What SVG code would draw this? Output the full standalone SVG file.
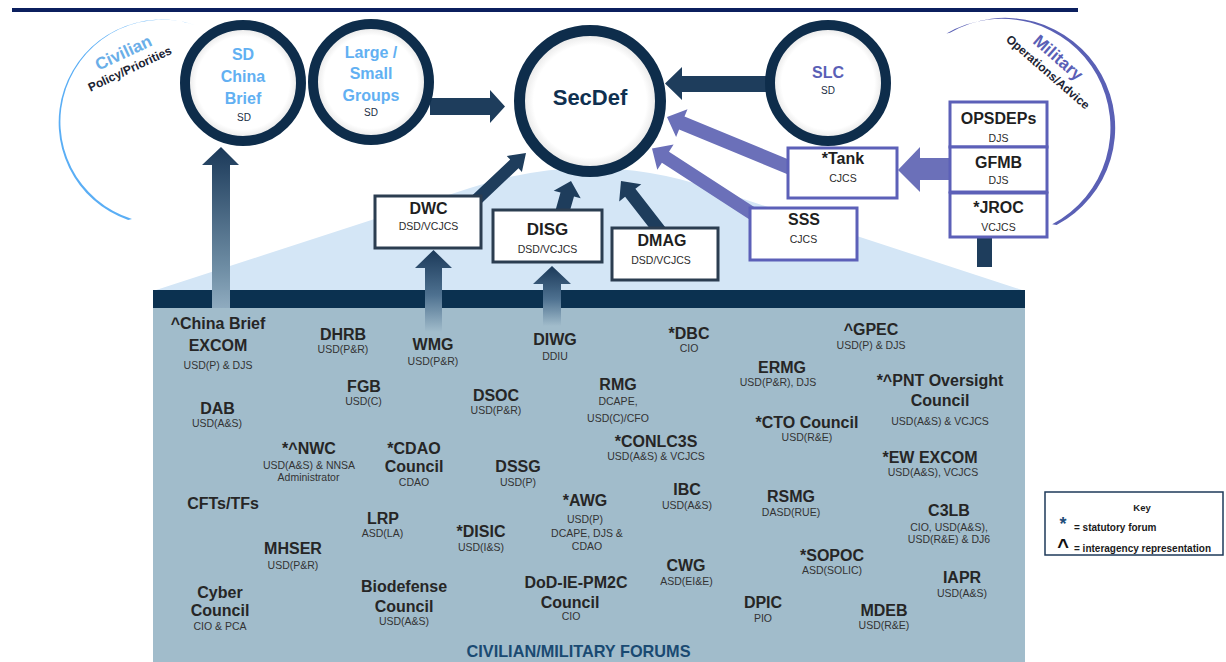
<svg xmlns="http://www.w3.org/2000/svg" width="1226" height="662" viewBox="0 0 1226 662">
<defs>
<style>
text{font-family:"Liberation Sans",Arial,Helvetica,sans-serif;text-anchor:middle}
.ft{font-weight:bold;font-size:16px;fill:#262626}
.fs{font-size:10.5px;fill:#333333}
.bt{font-weight:bold;font-size:16px;fill:#1f1f1f}
.bs{font-size:10.5px;fill:#2b2b2b}
.ct{font-weight:bold;font-size:16px;fill:#62b0f2}
.cs{font-size:10px;fill:#1a2e44}
.ring{stroke:#0e2d4b;stroke-width:10;fill:url(#disc)}
.nbox{fill:#ffffff;stroke:#2b3d50;stroke-width:3}
.pbox{fill:#ffffff;stroke:#5c60b8;stroke-width:3}
.navy{fill:#1e3d5c}
.purple{fill:#6b70b9}
.kt{font-weight:bold;font-size:10px;fill:#1a1a1a;text-anchor:start}
</style>
<radialGradient id="disc" cx="0.5" cy="0.5" r="0.5">
<stop offset="0" stop-color="#ffffff"/>
<stop offset="0.8" stop-color="#ffffff"/>
<stop offset="0.92" stop-color="#ececec"/>
<stop offset="1" stop-color="#cfcfcf"/>
</radialGradient>
<linearGradient id="upLong" x1="0" y1="0" x2="0" y2="1">
<stop offset="0" stop-color="#1b3959"/>
<stop offset="0.75" stop-color="#6e8da4"/>
<stop offset="1" stop-color="#8fabbf"/>
</linearGradient>
<linearGradient id="upShort" x1="0" y1="0" x2="0" y2="1">
<stop offset="0" stop-color="#1b3959"/>
<stop offset="0.55" stop-color="#4e7190"/>
<stop offset="1" stop-color="#a1bccb"/>
</linearGradient>
</defs>
<rect x="0" y="0" width="1226" height="662" fill="#ffffff"/>
<g id="background">
<rect x="12" y="8" width="1066" height="4" fill="#0b1f5e"/>
<path d="M153,291 L470,188 Q590,148 710,188 L1025,291 Z" fill="#d4e6f6"/>
<rect x="153" y="290" width="872" height="372" fill="#a1bccb"/>
<rect x="153" y="290" width="872" height="18" fill="#0b3150"/>
</g>
<g id="spheres">
<path d="M195.2,25.2 A103,103 0 1 0 128.2,220.0 L132,219 A102,102 0 1 1 198.4,26.2 Z" fill="#5aaef5"/>
<text transform="translate(125.8,57.9) rotate(-25)" style="font-weight:bold;font-size:17px;fill:#6aaee8">Civilian</text>
<text transform="translate(131.5,72.5) rotate(-25)" style="font-weight:bold;font-size:12px;fill:#1c2433">Policy/Priorities</text>
<path d="M950,32.7 A110,110 0 1 1 1056.6,225.1 L1052.2,224.2 A109,109 0 1 0 946.5,33.6 Z" fill="#5a60b5"/>
<text transform="translate(1054.4,62) rotate(41)" style="font-weight:bold;font-size:17px;fill:#5a5fb6">Military</text>
<text transform="translate(1045.2,75.2) rotate(41)" style="font-weight:bold;font-size:12px;fill:#1c2433">Operations/Advice</text>
</g>
<g id="connectors">
<polygon points="212,308 212,165 202,165 221,147 239,165 230,165 230,308" fill="url(#upLong)"/>
<polygon points="425,332 425,268 415,268 433.5,250 452,268 442,268 442,332" fill="url(#upShort)"/>
<polygon points="543,326 543,284 533,284 552,266 571,284 561,284 561,326" fill="url(#upShort)"/>
<polygon class="navy" points="430,98 490,98 490,90 505,106.5 490,123 490,115 430,115"/>
<polygon class="navy" points="772,76 682,76 682,67 665,83.5 682,100 682,92 772,92"/>
<polygon class="navy" points="477.1,207.4 518.5,168.3 521.9,172.0 526,153 506.8,156.0 510.2,159.6 468.9,198.6"/>
<polygon class="navy" points="568.7,214.9 574.0,196.4 580.7,198.3 571,181 553.7,190.7 560.5,192.6 555.3,211.1"/>
<polygon class="navy" points="665.1,227.0 635.4,188.8 641.3,184.2 621,181 619.2,201.4 625.1,196.8 654.9,235.0"/>
<polygon class="purple" points="794.7,162.0 684.5,116.6 687.5,109.2 667,117 676.1,137.0 679.1,129.6 789.3,175.0"/>
<polygon class="purple" points="756.5,208.6 669.0,151.8 673.6,144.6 652,148.5 657.3,169.8 661.9,162.7 749.5,219.5"/>
<polygon class="purple" points="952,158 920,158 920,147 898,170 920,192 920,180 952,180"/>
<rect x="977" y="236" width="15" height="31" fill="#1e3d5c"/>
</g>
<g id="sd-china-brief">
<circle class="ring" cx="243" cy="83" r="58"/>
<text class="ct" x="243" y="60">SD</text>
<text class="ct" x="243" y="82">China</text>
<text class="ct" x="243" y="103.5">Brief</text>
<text class="cs" x="244" y="121">SD</text>
</g>
<g id="large-small-groups">
<circle class="ring" cx="371" cy="82" r="58"/>
<text class="ct" x="371" y="58">Large /</text>
<text class="ct" x="371" y="79">Small</text>
<text class="ct" x="371" y="101">Groups</text>
<text class="cs" x="371" y="116">SD</text>
</g>
<g id="secdef">
<circle class="ring" cx="590" cy="101" r="70.5" style="stroke-width:11"/>
<text x="590" y="105" style="font-weight:bold;font-size:22px;fill:#0f3050">SecDef</text>
</g>
<g id="slc">
<circle class="ring" cx="828" cy="83" r="58"/>
<text x="828" y="78" style="font-weight:bold;font-size:16px;fill:#5a5fb6">SLC</text>
<text class="cs" x="828" y="94">SD</text>
</g>
<g id="dwc">
<rect class="nbox" x="375" y="196" width="106" height="52"/>
<text class="bt" x="428.5" y="213.5">DWC</text>
<text class="bs" x="428.5" y="229.5">DSD/VCJCS</text>
</g>
<g id="disg">
<rect class="nbox" x="493" y="210" width="109" height="52"/>
<text class="bt" x="547.5" y="234.5" style="font-size:17px">DISG</text>
<text class="bs" x="547.5" y="253">DSD/VCJCS</text>
</g>
<g id="dmag">
<rect class="nbox" x="612" y="228" width="106" height="52"/>
<text class="bt" x="662" y="246">DMAG</text>
<text class="bs" x="661" y="263.5">DSD/VCJCS</text>
</g>
<g id="tank">
<rect class="pbox" x="788" y="148" width="109" height="50"/>
<text class="bt" x="843" y="163.5">*Tank</text>
<text class="bs" x="843" y="181.5">CJCS</text>
</g>
<g id="sss">
<rect class="pbox" x="750" y="208" width="107" height="52"/>
<text class="bt" x="804" y="225">SSS</text>
<text class="bs" x="803.5" y="243">CJCS</text>
</g>
<g id="opsdeps">
<rect class="pbox" x="950" y="102" width="97" height="45"/>
<text class="bt" x="998.5" y="124">OPSDEPs</text>
<text class="bs" x="998.5" y="142">DJS</text>
</g>
<g id="gfmb">
<rect class="pbox" x="950" y="147" width="97" height="45"/>
<text class="bt" x="998.5" y="168">GFMB</text>
<text class="bs" x="998.5" y="184">DJS</text>
</g>
<g id="jroc">
<rect class="pbox" x="950" y="193" width="97" height="44"/>
<text class="bt" x="998.5" y="213">*JROC</text>
<text class="bs" x="998.5" y="231">VCJCS</text>
</g>
<g id="china-brief-excom"><text class="ft" x="218" y="329">^China Brief</text><text class="ft" x="218" y="351">EXCOM</text><text class="fs" x="218" y="369">USD(P) &amp; DJS</text></g>
<g id="dhrb"><text class="ft" x="343" y="340">DHRB</text><text class="fs" x="343" y="353">USD(P&amp;R)</text></g>
<g id="wmg"><text class="ft" x="433" y="350">WMG</text><text class="fs" x="433" y="364.5">USD(P&amp;R)</text></g>
<g id="diwg"><text class="ft" x="555" y="345">DIWG</text><text class="fs" x="555" y="359.5">DDIU</text></g>
<g id="dbc"><text class="ft" x="689" y="338.5">*DBC</text><text class="fs" x="689" y="352">CIO</text></g>
<g id="gpec"><text class="ft" x="871" y="335">^GPEC</text><text class="fs" x="871" y="349">USD(P) &amp; DJS</text></g>
<g id="ermg"><text class="ft" x="782" y="372.5">ERMG</text><text class="fs" x="778" y="385.5">USD(P&amp;R), DJS</text></g>
<g id="fgb"><text class="ft" x="364" y="392">FGB</text><text class="fs" x="363.5" y="404.5">USD(C)</text></g>
<g id="dsoc"><text class="ft" x="496" y="401">DSOC</text><text class="fs" x="496" y="414">USD(P&amp;R)</text></g>
<g id="rmg"><text class="ft" x="618" y="390">RMG</text><text class="fs" x="618" y="405">DCAPE,</text><text class="fs" x="618" y="421.5">USD(C)/CFO</text></g>
<g id="pnt"><text class="ft" x="940" y="386">*^PNT Oversight</text><text class="ft" x="940" y="406">Council</text><text class="fs" x="940" y="424.5">USD(A&amp;S) &amp; VCJCS</text></g>
<g id="dab"><text class="ft" x="217.5" y="413.5">DAB</text><text class="fs" x="217" y="427">USD(A&amp;S)</text></g>
<g id="cto"><text class="ft" x="807" y="427.5">*CTO Council</text><text class="fs" x="807" y="440.5">USD(R&amp;E)</text></g>
<g id="conlc3s"><text class="ft" x="656" y="446.5">*CONLC3S</text><text class="fs" x="656" y="459.5">USD(A&amp;S) &amp; VCJCS</text></g>
<g id="nwc"><text class="ft" x="309" y="454">*^NWC</text><text class="fs" x="309" y="469">USD(A&amp;S) &amp; NNSA</text><text class="fs" x="308.5" y="481">Administrator</text></g>
<g id="cdao"><text class="ft" x="414" y="454">*CDAO</text><text class="ft" x="414" y="472">Council</text><text class="fs" x="414" y="485.5">CDAO</text></g>
<g id="dssg"><text class="ft" x="518" y="472">DSSG</text><text class="fs" x="518" y="485.5">USD(P)</text></g>
<g id="ew-excom"><text class="ft" x="930" y="462.5">*EW EXCOM</text><text class="fs" x="933" y="476">USD(A&amp;S), VCJCS</text></g>
<g id="cfts-tfs"><text class="ft" x="223" y="508.5">CFTs/TFs</text></g>
<g id="ibc"><text class="ft" x="687" y="495">IBC</text><text class="fs" x="687" y="509">USD(A&amp;S)</text></g>
<g id="rsmg"><text class="ft" x="791" y="502">RSMG</text><text class="fs" x="791" y="515.5">DASD(RUE)</text></g>
<g id="c3lb"><text class="ft" x="949" y="516">C3LB</text><text class="fs" x="949" y="530.5">CIO, USD(A&amp;S),</text><text class="fs" x="949" y="543">USD(R&amp;E) &amp; DJ6</text></g>
<g id="awg"><text class="ft" x="585" y="506">*AWG</text><text class="fs" x="585" y="523">USD(P)</text><text class="fs" x="587" y="537">DCAPE, DJS &amp;</text><text class="fs" x="587" y="550">CDAO</text></g>
<g id="lrp"><text class="ft" x="383" y="524">LRP</text><text class="fs" x="382.5" y="537">ASD(LA)</text></g>
<g id="disic"><text class="ft" x="481" y="537">*DISIC</text><text class="fs" x="481" y="551">USD(I&amp;S)</text></g>
<g id="mhser"><text class="ft" x="293" y="554">MHSER</text><text class="fs" x="293" y="569">USD(P&amp;R)</text></g>
<g id="sopoc"><text class="ft" x="832" y="561">*SOPOC</text><text class="fs" x="832" y="574">ASD(SOLIC)</text></g>
<g id="cwg"><text class="ft" x="686" y="571">CWG</text><text class="fs" x="686.5" y="584.5">ASD(EI&amp;E)</text></g>
<g id="iapr"><text class="ft" x="962" y="583">IAPR</text><text class="fs" x="962" y="596.5">USD(A&amp;S)</text></g>
<g id="cyber-council"><text class="ft" x="220" y="597.5">Cyber</text><text class="ft" x="220" y="616">Council</text><text class="fs" x="220" y="630">CIO &amp; PCA</text></g>
<g id="biodefense-council"><text class="ft" x="404" y="591.5">Biodefense</text><text class="ft" x="404" y="611.5">Council</text><text class="fs" x="404" y="624.5">USD(A&amp;S)</text></g>
<g id="dod-ie-pm2c"><text class="ft" x="576" y="588">DoD-IE-PM2C</text><text class="ft" x="570" y="608">Council</text><text class="fs" x="571" y="620">CIO</text></g>
<g id="dpic"><text class="ft" x="763" y="607.5">DPIC</text><text class="fs" x="763" y="621.5">PIO</text></g>
<g id="mdeb"><text class="ft" x="884" y="616">MDEB</text><text class="fs" x="884" y="629">USD(R&amp;E)</text></g>
<g id="forums-label"><text x="578.5" y="657" textLength="224" lengthAdjust="spacingAndGlyphs" style="font-weight:bold;font-size:17px;fill:#1a4a72">CIVILIAN/MILITARY FORUMS</text></g>
<g id="key">
<rect x="1045" y="492" width="178" height="63" fill="#ffffff" stroke="#1e3a5a" stroke-width="1.5"/>
<text x="1142" y="511" style="font-weight:bold;font-size:9.5px;fill:#1a1a1a">Key</text>
<text x="1063" y="530" style="font-weight:bold;font-size:18px;fill:#1f4e79">*</text>
<text class="kt" x="1074" y="531">= statutory forum</text>
<text x="1063" y="553" style="font-weight:bold;font-size:20px;fill:#111111">^</text>
<text class="kt" x="1074" y="552">= interagency representation</text>
</g>
</svg>
